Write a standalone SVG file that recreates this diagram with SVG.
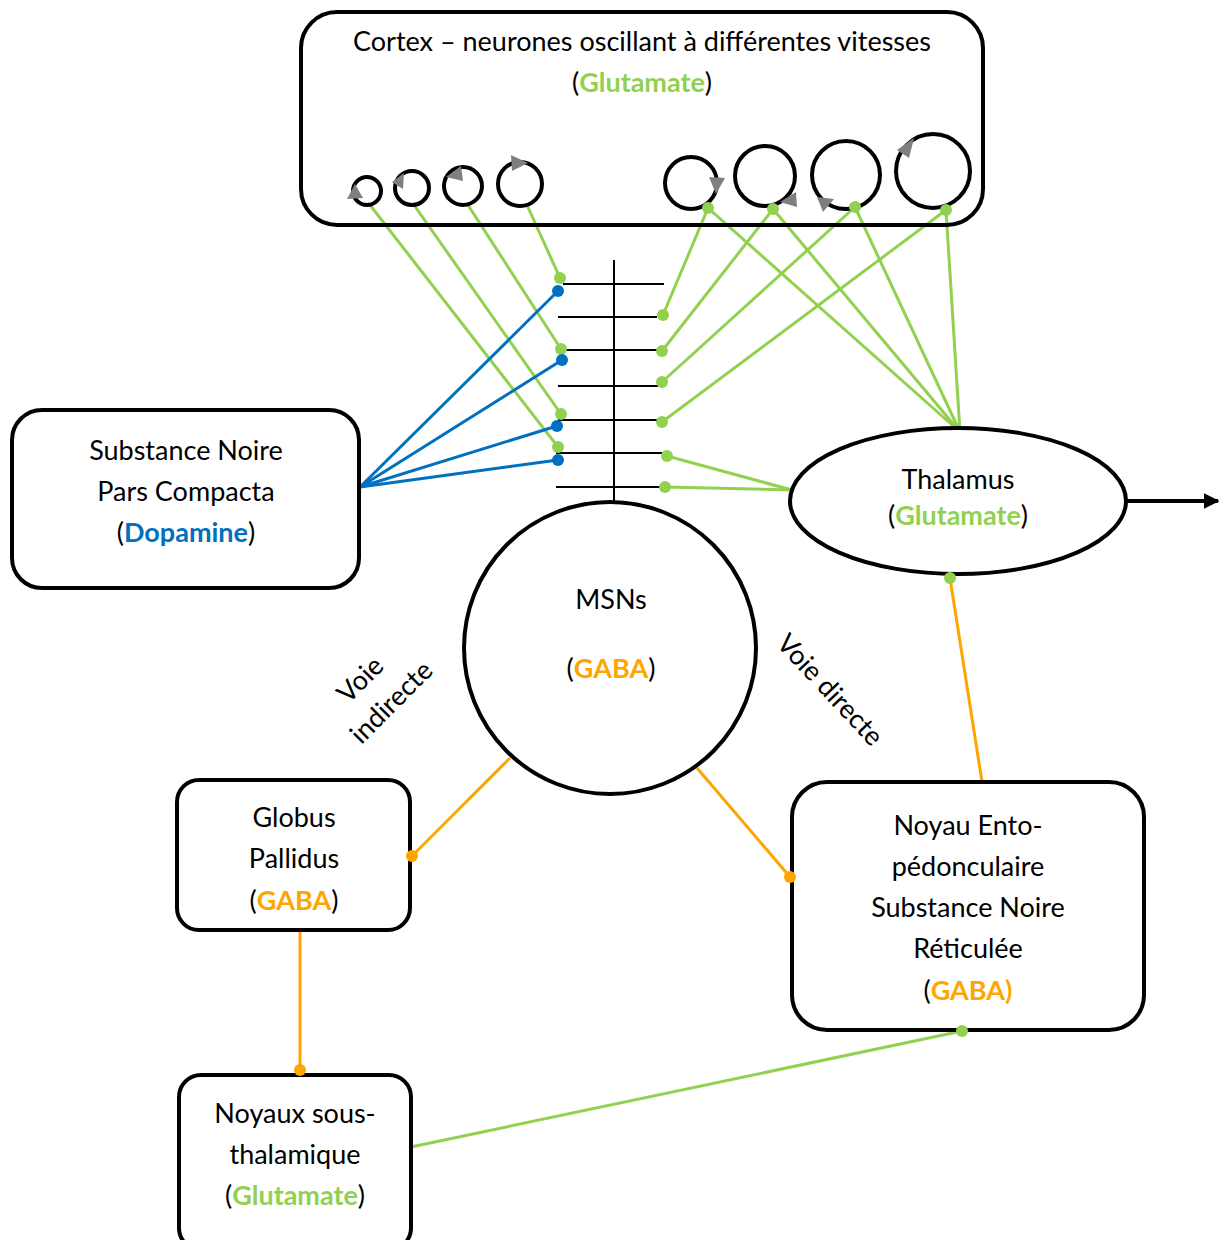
<svg xmlns="http://www.w3.org/2000/svg" width="1222" height="1240" viewBox="0 0 1222 1240">
<defs>
<style>
.box{fill:#fff;stroke:#000;stroke-width:4}
.frame{fill:none;stroke:#000;stroke-width:4}
.osc{fill:none;stroke:#000;stroke-width:4}
.tip{fill:#7f7f7f}
.t{font-family:Lato,"Open Sans","Liberation Sans",sans-serif;font-size:27px;fill:#000;text-anchor:middle}
.g{fill:#92D050;font-weight:bold}
.o{fill:#FFA500;font-weight:bold}
.b{fill:#0070C0;font-weight:bold}
.lg{stroke:#92D050;stroke-width:3;fill:none}
.lb{stroke:#0070C0;stroke-width:3;fill:none}
.lo{stroke:#FFA500;stroke-width:3;fill:none}
.dg{fill:#92D050}
.db{fill:#0070C0}
.do{fill:#FFA500}
.k{stroke:#000;stroke-width:2}
</style>
<marker id="arr" viewBox="0 0 10 10" refX="9" refY="5" markerWidth="4" markerHeight="4" orient="auto" markerUnits="strokeWidth">
<path d="M0,0 L10,5 L0,10 z" fill="#000"/>
</marker>
</defs>

<rect x="0" y="0" width="1222" height="1240" fill="#fff"/>

<g id="connectors">
<!-- left cortex oscillators to spine -->
<line class="lg" x1="370" y1="205" x2="558" y2="447"/>
<line class="lg" x1="414" y1="205" x2="561" y2="414"/>
<line class="lg" x1="468" y1="205" x2="561" y2="349"/>
<line class="lg" x1="527" y1="205" x2="560" y2="278"/>
<!-- right cortex oscillators to spine -->
<line class="lg" x1="708" y1="208" x2="663" y2="315"/>
<line class="lg" x1="773" y1="209" x2="662" y2="351"/>
<line class="lg" x1="855" y1="207" x2="662" y2="382"/>
<line class="lg" x1="946" y1="210" x2="662" y2="422"/>
<!-- right cortex oscillators to thalamus -->
<line class="lg" x1="708" y1="208" x2="960" y2="432"/>
<line class="lg" x1="773" y1="209" x2="960" y2="432"/>
<line class="lg" x1="855" y1="207" x2="960" y2="432"/>
<line class="lg" x1="946" y1="210" x2="960" y2="432"/>
<!-- thalamus to spine -->
<line class="lg" x1="792" y1="490" x2="667" y2="456"/>
<line class="lg" x1="792" y1="490" x2="665" y2="487"/>
<!-- SNc dopamine -->
<line class="lb" x1="360" y1="487" x2="558" y2="291"/>
<line class="lb" x1="360" y1="487" x2="562" y2="360"/>
<line class="lb" x1="360" y1="487" x2="557" y2="426"/>
<line class="lb" x1="360" y1="487" x2="558" y2="460"/>
<!-- spine -->
<line class="k" x1="614" y1="260" x2="614" y2="505"/>
<line class="k" x1="563" y1="284" x2="664" y2="284"/>
<line class="k" x1="558" y1="317" x2="657" y2="317"/>
<line class="k" x1="558" y1="350" x2="664" y2="350"/>
<line class="k" x1="558" y1="386" x2="660" y2="386"/>
<line class="k" x1="558" y1="420" x2="664" y2="420"/>
<line class="k" x1="556" y1="453" x2="662" y2="453"/>
<line class="k" x1="556" y1="487" x2="662" y2="487"/>
<!-- dots -->
<circle class="dg" cx="560" cy="278" r="6"/>
<circle class="dg" cx="561" cy="349" r="6"/>
<circle class="dg" cx="561" cy="414" r="6"/>
<circle class="dg" cx="558" cy="447" r="6"/>
<circle class="db" cx="558" cy="291" r="6"/>
<circle class="db" cx="562" cy="360" r="6"/>
<circle class="db" cx="557" cy="426" r="6"/>
<circle class="db" cx="558" cy="460" r="6"/>
<circle class="dg" cx="663" cy="315" r="6"/>
<circle class="dg" cx="662" cy="351" r="6"/>
<circle class="dg" cx="662" cy="382" r="6"/>
<circle class="dg" cx="662" cy="422" r="6"/>
<circle class="dg" cx="667" cy="456" r="6"/>
<circle class="dg" cx="665" cy="487" r="6"/>
<!-- thalamus output -->
<line x1="1126" y1="501" x2="1218" y2="501" stroke="#000" stroke-width="4" marker-end="url(#arr)"/>
<!-- thalamus to EP/SNr -->
<line class="lo" x1="950" y1="578" x2="982" y2="782"/>
<!-- MSN to GP and EP -->
<line class="lo" x1="510" y1="758" x2="412" y2="856"/>
<line class="lo" x1="697" y1="768" x2="790" y2="877"/>
<!-- GP to STN -->
<line class="lo" x1="300" y1="930" x2="300" y2="1070"/>
<!-- STN to EP/SNr -->
<line class="lg" x1="411" y1="1147" x2="962" y2="1031"/>
</g>

<g id="cortex">
<rect class="frame" x="301" y="12" width="682" height="213" rx="36"/>
<text class="t" x="642" y="51">Cortex – neurones oscillant à différentes vitesses</text>
<text class="t" x="642" y="92">(<tspan class="g">Glutamate</tspan>)</text>
<circle class="osc" cx="367" cy="191" r="14"/>
<circle class="osc" cx="412" cy="188" r="17"/>
<circle class="osc" cx="463" cy="186" r="19"/>
<circle class="osc" cx="520" cy="184" r="22"/>
<circle class="osc" cx="691" cy="183" r="26"/>
<circle class="osc" cx="765" cy="176" r="30"/>
<circle class="osc" cx="846" cy="175" r="34"/>
<circle class="osc" cx="933" cy="171" r="37"/>
<polygon class="tip" points="355,184 347,199 363,198"/>
<polygon class="tip" points="392,182 404,173 403,189"/>
<polygon class="tip" points="446,177 461,166 463,181"/>
<polygon class="tip" points="528,163 511,155 512,171"/>
<polygon class="tip" points="716,194 709,177 725,178"/>
<polygon class="tip" points="780,202 796,192 797,207"/>
<polygon class="tip" points="823,212 817,197 834,199"/>
<polygon class="tip" points="897,150 914,138 909,158"/>
<circle class="dg" cx="708" cy="208" r="6"/>
<circle class="dg" cx="773" cy="209" r="6"/>
<circle class="dg" cx="855" cy="207" r="6"/>
<circle class="dg" cx="946" cy="210" r="6"/>
</g>

<g id="snc">
<rect class="box" x="12" y="410" width="347" height="178" rx="30"/>
<text class="t" x="186" y="460">Substance Noire</text>
<text class="t" x="186" y="501">Pars Compacta</text>
<text class="t" x="186" y="542">(<tspan class="b">Dopamine</tspan>)</text>
</g>

<g id="thalamus">
<ellipse class="box" cx="958" cy="501" rx="168" ry="73"/>
<text class="t" x="958" y="489">Thalamus</text>
<text class="t" x="958" y="525">(<tspan class="g">Glutamate</tspan>)</text>
<circle class="dg" cx="950" cy="578" r="6"/>
</g>

<g id="msn">
<circle class="box" cx="610" cy="648" r="146"/>
<text class="t" x="611" y="609">MSNs</text>
<text class="t" x="611" y="678">(<tspan class="o">GABA</tspan>)</text>
</g>

<g id="gp">
<rect class="box" x="177" y="780" width="233" height="150" rx="22"/>
<text class="t" x="294" y="827">Globus</text>
<text class="t" x="294" y="868">Pallidus</text>
<text class="t" x="294" y="910">(<tspan class="o">GABA</tspan>)</text>
<circle class="do" cx="412" cy="856" r="6"/>
</g>

<g id="ep-snr">
<rect class="box" x="792" y="782" width="352" height="248" rx="35"/>
<text class="t" x="968" y="835">Noyau Ento-</text>
<text class="t" x="968" y="876">pédonculaire</text>
<text class="t" x="968" y="917">Substance Noire</text>
<text class="t" x="968" y="958">Réticulée</text>
<text class="t" x="968" y="1000">(<tspan class="o">GABA)</tspan></text>
<circle class="do" cx="790" cy="877" r="6"/>
<circle class="dg" cx="962" cy="1031" r="6"/>
</g>

<g id="stn">
<rect class="box" x="179" y="1075" width="232" height="175" rx="22"/>
<text class="t" x="295" y="1123">Noyaux sous-</text>
<text class="t" x="295" y="1164">thalamique</text>
<text class="t" x="295" y="1205">(<tspan class="g">Glutamate</tspan>)</text>
<circle class="do" cx="300" cy="1070" r="6"/>
</g>

<g id="labels">
<text class="t" transform="translate(376,691) rotate(-45)"><tspan x="-3" y="-10">Voie</tspan><tspan x="3" y="28">indirecte</tspan></text>
<text class="t" transform="translate(830,690) rotate(47)" x="0" y="9">Voie directe</text>
</g>
</svg>
